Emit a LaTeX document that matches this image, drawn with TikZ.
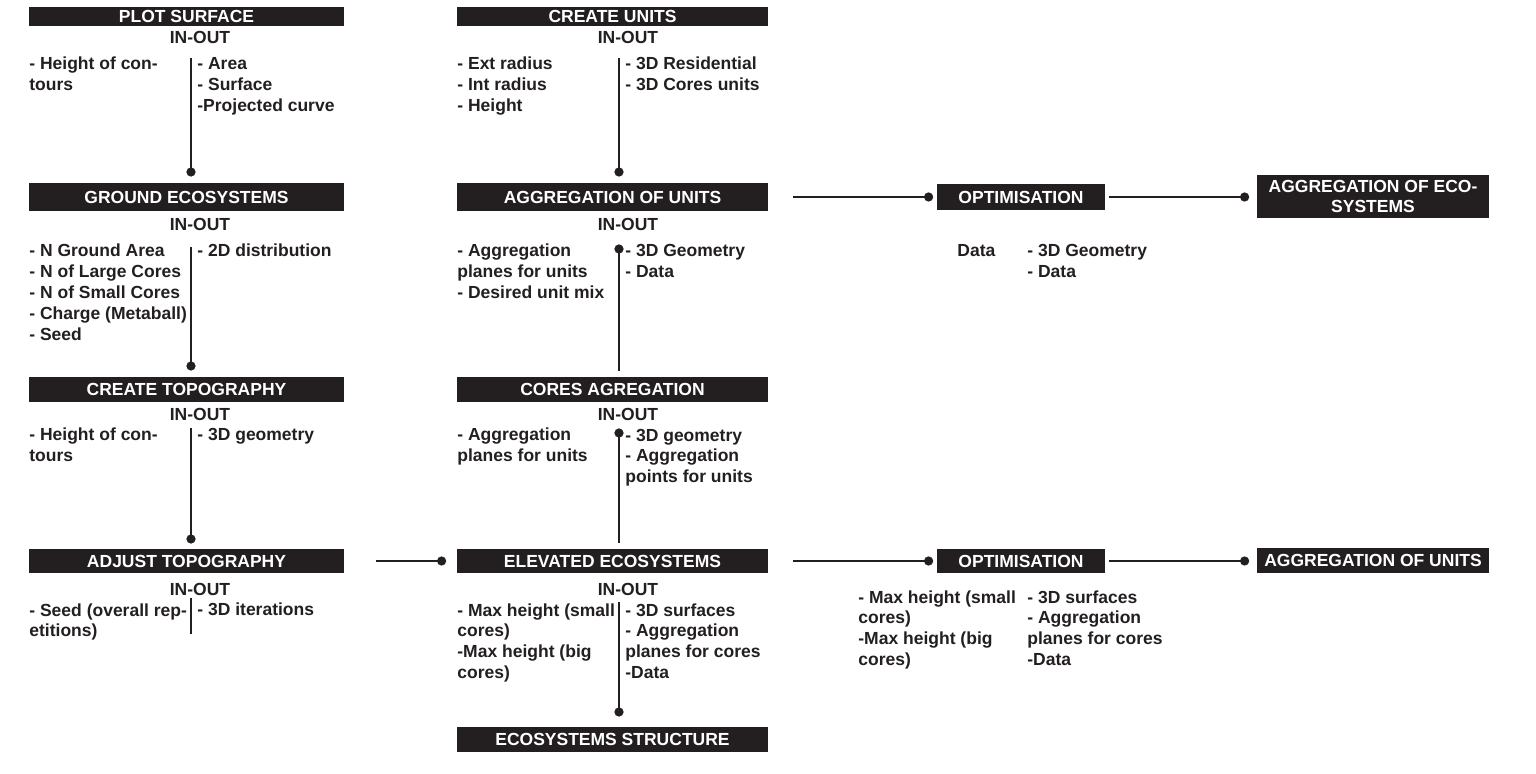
\documentclass[tikz,border=0pt]{standalone}
\usepackage{fontspec}
\setmainfont{Liberation Sans}
\usepackage{xcolor}
\usetikzlibrary{arrows.meta}

\definecolor{ink}{HTML}{231F20}
\newcommand{\flowfont}{\fontsize{8.75}{10.4}\selectfont\bfseries}

\begin{document}
\begin{tikzpicture}[x=0.5pt,y=-0.5pt]
    \tikzstyle{bar}=[rectangle,fill=ink,text=white,font=\flowfont,inner sep=0pt,align=center]
    \tikzstyle{io}=[inner sep=0pt,anchor=base,font=\flowfont,text=ink]
    % base of a multi-line text = base of its last line
    \tikzstyle{txt}=[inner sep=0pt,anchor=base west,align=left,font=\flowfont,text=ink]
    \tikzstyle{link}=[line width=1.4pt,draw=ink]
    \tikzstyle{dotend}=[link,-{Circle[length=4.5pt]}]
    \tikzstyle{dotstart}=[link,{Circle[length=4.5pt]}-]

    \useasboundingbox (0,0) rectangle (1536,774);

    % Left column
    \node [bar, minimum width=157.5pt, minimum height=9.5pt] (plot) at (186.5,16.5) {PLOT SURFACE};
    \node [bar, minimum width=157.5pt, minimum height=14pt] (ground) at (186.5,197) {GROUND ECOSYSTEMS};
    \node [bar, minimum width=157.5pt, minimum height=12.5pt] (createtopo) at (186.5,389.5) {CREATE TOPOGRAPHY};
    \node [bar, minimum width=157.5pt, minimum height=12pt] (adjusttopo) at (186.5,561) {ADJUST TOPOGRAPHY};

    \node [io] (ioplot) at (200,44) {IN-OUT};
    \node [io] (ioground) at (200,231) {IN-OUT};
    \node [io] (iocreatetopo) at (200,421) {IN-OUT};
    \node [io] (ioadjusttopo) at (200,596) {IN-OUT};

    \node [txt] (plotin) at (29,90.8) {- Height of con-\\tours};
    \node [txt] (plotout) at (197,111.6) {- Area\\- Surface\\-Projected curve};
    \node [txt] (groundin) at (29,340.2) {- N Ground Area\\- N of Large Cores\\- N of Small Cores\\- Charge (Metaball)\\- Seed};
    \node [txt] (groundout) at (197,257) {- 2D distribution};
    \node [txt] (createtopoin) at (29,461.8) {- Height of con-\\tours};
    \node [txt] (createtopoout) at (197,441) {- 3D geometry};
    \node [txt] (adjusttopoin) at (29,636.8) {- Seed (overall rep-\\etitions)};
    \node [txt] (adjusttopoout) at (197,616) {- 3D iterations};

    \coordinate (plotdiv) at (191,58);
    \coordinate (grounddot) at (191,176.5);
    \coordinate (grounddiv) at (191,247);
    \coordinate (createtopodot) at (191,370.5);
    \coordinate (createtopodiv) at (191,428);
    \coordinate (adjusttopodot) at (191,543.5);
    \coordinate (adjusttopodiv) at (191,598);
    \coordinate (adjusttopoend) at (191,634);

    \draw [dotend] (plotdiv) -- (grounddot);
    \draw [dotend] (grounddiv) -- (createtopodot);
    \draw [dotend] (createtopodiv) -- (adjusttopodot);
    \draw [link] (adjusttopodiv) -- (adjusttopoend);

    % Middle column
    \node [bar, minimum width=155.5pt, minimum height=9.5pt] (createunits) at (612.5,16.5) {CREATE UNITS};
    \node [bar, minimum width=155.5pt, minimum height=14pt] (aggunits) at (612.5,197) {AGGREGATION OF UNITS};
    \node [bar, minimum width=155.5pt, minimum height=12.5pt] (cores) at (612.5,389.5) {CORES AGREGATION};
    \node [bar, minimum width=155.5pt, minimum height=12pt] (elevated) at (612.5,561) {ELEVATED ECOSYSTEMS};
    \node [bar, minimum width=155.5pt, minimum height=12.5pt] (structure) at (612.5,739.5) {ECOSYSTEMS STRUCTURE};

    \node [io] (iocreateunits) at (628,44) {IN-OUT};
    \node [io] (ioaggunits) at (628,231) {IN-OUT};
    \node [io] (iocores) at (628,421) {IN-OUT};
    \node [io] (ioelevated) at (628,596) {IN-OUT};

    \node [txt] (createunitsin) at (457,111.6) {- Ext radius\\- Int radius\\- Height};
    \node [txt] (createunitsout) at (625,90.8) {- 3D Residential\\- 3D Cores units};
    \node [txt] (aggunitsin) at (457,298.6) {- Aggregation\\planes for units\\- Desired unit mix};
    \node [txt] (aggunitsout) at (625,277.8) {- 3D Geometry\\- Data};
    \node [txt] (coresin) at (457,461.8) {- Aggregation\\planes for units};
    \node [txt] (coresout) at (625,482.6) {- 3D geometry\\- Aggregation\\points for units};
    \node [txt] (elevatedin) at (457,678.4) {- Max height (small\\cores)\\-Max height (big\\cores)};
    \node [txt] (elevatedout) at (625,678.4) {- 3D surfaces\\- Aggregation\\planes for cores\\-Data};

    \coordinate (createunitsdiv) at (619,58);
    \coordinate (aggunitsdot) at (619,176.5);
    \coordinate (aggunitsdiv) at (619,244.5);
    \coordinate (coresend) at (619,371);
    \coordinate (coresdiv) at (619,428.5);
    \coordinate (elevatedend) at (619,543);
    \coordinate (elevateddiv) at (619,602);
    \coordinate (structuredot) at (619,716.5);

    \draw [dotend] (createunitsdiv) -- (aggunitsdot);
    \draw [dotstart] (aggunitsdiv) -- (coresend);
    \draw [dotstart] (coresdiv) -- (elevatedend);
    \draw [dotend] (elevateddiv) -- (structuredot);

    % Right side
    \node [bar, minimum width=84pt, minimum height=13pt] (optA) at (1021,197) {OPTIMISATION};
    \node [bar, minimum width=116pt, minimum height=21.5pt] (aggeco) at (1373,196.5) {AGGREGATION OF ECO-\\SYSTEMS};
    \node [bar, minimum width=84pt, minimum height=12pt] (optB) at (1021,561) {OPTIMISATION};
    \node [bar, minimum width=116pt, minimum height=12.5pt] (aggunitsR) at (1373,560.5) {AGGREGATION OF UNITS};

    \node [txt] (optAin) at (957,257) {Data};
    \node [txt] (optAout) at (1027,277.8) {- 3D Geometry\\- Data};
    \node [txt] (optBin) at (858,665.4) {- Max height (small\\cores)\\-Max height (big\\cores)};
    \node [txt] (optBout) at (1027,665.4) {- 3D surfaces\\- Aggregation\\planes for cores\\-Data};

    \draw [dotend] ([xshift=12.5pt]aggunits.east) -- ([xshift=-1.75pt]optA.west);
    \draw [dotend] ([xshift=2pt]optA.east) -- ([xshift=-3.75pt]optA.east -| aggeco.west);

    \draw [dotend] ([xshift=16pt]adjusttopo.east) -- ([xshift=-5.25pt]elevated.west);
    \draw [dotend] ([xshift=12.5pt]elevated.east) -- ([xshift=-1.75pt]optB.west);
    \draw [dotend] ([xshift=2pt]optB.east) -- ([xshift=-3.75pt]optB.east -| aggunitsR.west);

\end{tikzpicture}
\end{document}
